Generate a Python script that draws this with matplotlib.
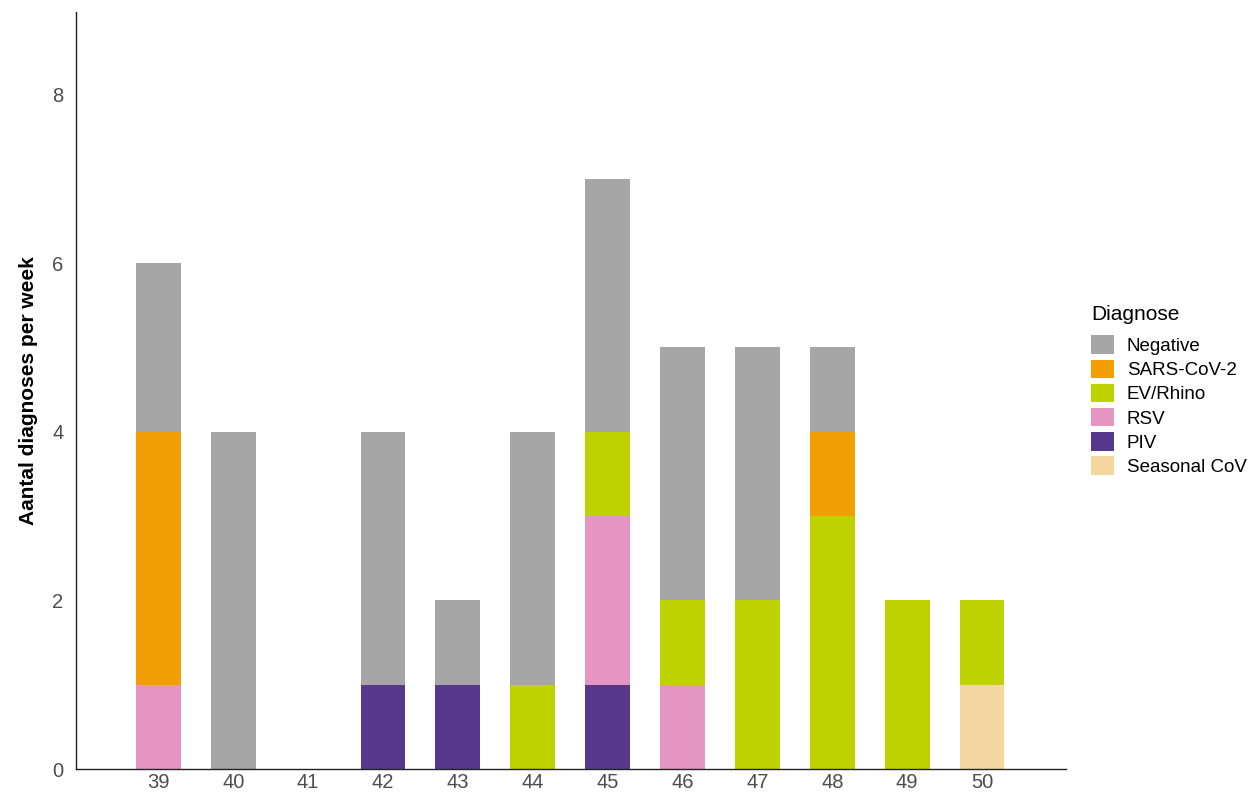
import matplotlib.pyplot as plt
import numpy as np
from matplotlib.patches import Patch

weeks = [39, 40, 41, 42, 43, 44, 45, 46, 47, 48, 49, 50]

# counts per diagnosis per week
negative = [2, 4, 0, 3, 1, 3, 3, 3, 3, 1, 0, 0]
sars_cov2 = [3, 0, 0, 0, 0, 0, 0, 0, 0, 1, 0, 0]
ev_rhino = [0, 0, 0, 0, 0, 1, 1, 1, 2, 3, 2, 1]
rsv = [1, 0, 0, 0, 0, 0, 2, 1, 0, 0, 0, 0]
piv = [0, 0, 0, 1, 1, 0, 1, 0, 0, 0, 0, 0]
seasonal_cov = [0, 0, 0, 0, 0, 0, 0, 0, 0, 0, 0, 1]

labels = ["Negative", "SARS-CoV-2", "EV/Rhino", "RSV", "PIV", "Seasonal CoV"]
colors = ["#A6A6A6", "#F29F05", "#BED200", "#E495C2", "#56398C", "#F4D6A0"]
series = [negative, sars_cov2, ev_rhino, rsv, piv, seasonal_cov]

plt.rcParams['font.family'] = ['Liberation Sans', 'DejaVu Sans']

fig = plt.figure(figsize=(12.51, 7.92), dpi=100)
ax = fig.add_axes([0.0608, 0.029, 0.7912, 0.956])

# stack from bottom: last legend entry first
bottom = np.zeros(len(weeks))
for lab, col, vals in reversed(list(zip(labels, colors, series))):
    vals = np.array(vals, dtype=float)
    ax.bar(weeks, vals, bottom=bottom, width=0.6, color=col, edgecolor="none")
    bottom += vals

ax.set_xlim(37.9, 51.12)
ax.set_ylim(0, 8.98)
ax.set_xticks(weeks)
ax.set_xticklabels([str(w) for w in weeks])
ax.set_yticks([0, 2, 4, 6, 8])
ax.tick_params(axis="both", length=0, labelsize=14.5, labelcolor="#4D4D4D")
ax.tick_params(axis="x", pad=3)
ax.tick_params(axis="y", pad=9)

for s in ["top", "right"]:
    ax.spines[s].set_visible(False)
for s in ["left", "bottom"]:
    ax.spines[s].set_color("#222222")
    ax.spines[s].set_linewidth(1.0)

ax.set_ylabel("Aantal diagnoses per week", fontsize=15, fontweight="bold", labelpad=10)

handles = [Patch(facecolor=c, edgecolor="none", label=l) for l, c in zip(labels, colors)]
leg = fig.legend(handles=handles, title="Diagnose", loc="upper left",
                 bbox_to_anchor=(0.8664, 0.624), frameon=False, fontsize=13.5,
                 title_fontsize=15, handlelength=1.2, handleheight=1.15,
                 handletextpad=0.7, labelspacing=0.24, borderaxespad=0)
leg._legend_box.align = "left"
leg._legend_box.sep = 8

fig.savefig("out.png", dpi=100)
